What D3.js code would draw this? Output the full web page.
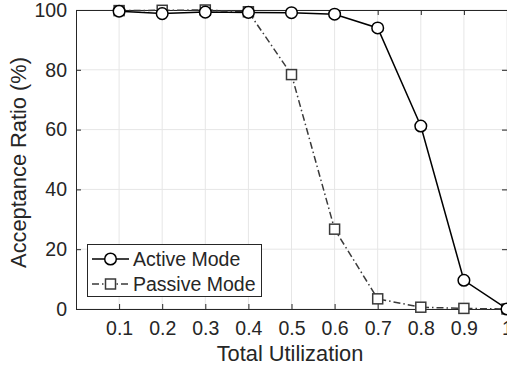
<!DOCTYPE html>
<html>
<head>
<meta charset="utf-8">
<script src="https://cdn.jsdelivr.net/npm/d3@7"></script>
<style>
  html, body { margin: 0; padding: 0; background: #fff; }
  svg { display: block; }
  text { font-family: "Liberation Sans", Arial, Helvetica, sans-serif; fill: #262626; }
</style>
</head>
<body>
<svg id="chart" width="507" height="373"></svg>
<script>
// Total utilization levels and acceptance ratios (%) for each mode
const utilization = [0.1, 0.2, 0.3, 0.4, 0.5, 0.6, 0.7, 0.8, 0.9, 1.0];
const activeMode  = [99.6, 98.8, 99.3, 99.2, 99.1, 98.6, 94.0, 61.2, 9.6, 0.0];
const passiveMode = [99.8, 99.9, 100.0, 99.4, 78.4, 26.7, 3.4, 0.6, 0.2, 0.0];
const xTicks = [0.1, 0.2, 0.3, 0.4, 0.5, 0.6, 0.7, 0.8, 0.9, 1];
const yTicks = [0, 20, 40, 60, 80, 100];
const seriesNames = ["Active Mode", "Passive Mode"];

const svg = d3.select("#chart");
const plotL = 76, plotR = 507, plotT = 10, plotB = 309;

const x = d3.scaleLinear().domain([0, 1]).range([plotL, plotR]);
const y = d3.scaleLinear().domain([0, 100]).range([plotB, plotT]);

const axisColor = "#262626";
const fontSize = 19.5;
const labelSize = 21.8;

// grid
const grid = svg.append("g");
grid.selectAll("line.vx").data(xTicks).join("line")
  .attr("x1", d => x(d)).attr("x2", d => x(d))
  .attr("y1", plotT).attr("y2", plotB)
  .attr("stroke", "#e6e6e6").attr("stroke-width", 1);
grid.selectAll("line.hy").data(yTicks).join("line")
  .attr("x1", plotL).attr("x2", plotR)
  .attr("y1", d => y(d)).attr("y2", d => y(d))
  .attr("stroke", "#e6e6e6").attr("stroke-width", 1);

// axes with inward ticks
function styleAxis(g) {
  g.select(".domain").remove();
  g.selectAll(".tick line").attr("stroke", axisColor).attr("stroke-width", 1);
  g.selectAll(".tick text").attr("font-size", fontSize)
    .attr("font-family", "Liberation Sans, Arial, sans-serif").attr("fill", axisColor);
}
const xAxis = svg.append("g").attr("transform", `translate(0,${plotB})`)
  .call(d3.axisBottom(x).tickValues(xTicks).tickSize(-5).tickPadding(12)
    .tickFormat(d => d === 1 ? "1" : d3.format(".1f")(d)));
styleAxis(xAxis);
const xAxisTop = svg.append("g").attr("transform", `translate(0,${plotT})`)
  .call(d3.axisTop(x).tickValues(xTicks).tickSize(-5).tickFormat(""));
styleAxis(xAxisTop);
const yAxis = svg.append("g").attr("transform", `translate(${plotL},0)`)
  .call(d3.axisLeft(y).tickValues(yTicks).tickSize(-5).tickPadding(9));
styleAxis(yAxis);
const yAxisRight = svg.append("g").attr("transform", `translate(${plotR},0)`)
  .call(d3.axisRight(y).tickValues(yTicks).tickSize(-5).tickFormat(""));
styleAxis(yAxisRight);

// box
svg.append("rect").attr("x", plotL + 0.5).attr("y", plotT + 0.5)
  .attr("width", plotR - plotL).attr("height", plotB - plotT)
  .attr("fill", "none").attr("stroke", axisColor).attr("stroke-width", 1);

// axis labels
svg.append("text").attr("x", 290).attr("y", 361)
  .attr("text-anchor", "middle").attr("font-size", labelSize).text("Total Utilization");
svg.append("text")
  .attr("transform", `translate(26,162.5) rotate(-90)`)
  .attr("text-anchor", "middle").attr("font-size", labelSize).text("Acceptance Ratio (%)");

// series
const line = d3.line().x(d => x(d[0])).y(d => y(d[1]));
const activePts = utilization.map((u, i) => [u, activeMode[i]]);
const passivePts = utilization.map((u, i) => [u, passiveMode[i]]);

svg.append("path").datum(passivePts).attr("d", line)
  .attr("fill", "none").attr("stroke", "#3a3a3a").attr("stroke-width", 1.5)
  .attr("stroke-dasharray", "7,3,1.5,3");
svg.selectAll("rect.pm").data(passivePts).join("rect")
  .attr("x", d => x(d[0]) - 5).attr("y", d => y(d[1]) - 5)
  .attr("width", 10).attr("height", 10)
  .attr("fill", "#fff").attr("stroke", "#3a3a3a").attr("stroke-width", 1.5);

svg.append("path").datum(activePts).attr("d", line)
  .attr("fill", "none").attr("stroke", "#000").attr("stroke-width", 1.5);
svg.selectAll("circle.am").data(activePts).join("circle")
  .attr("cx", d => x(d[0])).attr("cy", d => y(d[1])).attr("r", 5.8)
  .attr("fill", "#fff").attr("stroke", "#000").attr("stroke-width", 1.5);

// legend
const lg = svg.append("g");
lg.append("rect").attr("x", 87.5).attr("y", 244.5).attr("width", 174).attr("height", 52)
  .attr("fill", "#fff").attr("stroke", axisColor).attr("stroke-width", 1);
const rows = [259, 284];
// active entry
lg.append("line").attr("x1", 92).attr("x2", 129).attr("y1", rows[0]).attr("y2", rows[0])
  .attr("stroke", "#000").attr("stroke-width", 1.5);
lg.append("circle").attr("cx", 110.5).attr("cy", rows[0]).attr("r", 5.8)
  .attr("fill", "#fff").attr("stroke", "#000").attr("stroke-width", 1.5);
// passive entry
lg.append("line").attr("x1", 92).attr("x2", 129).attr("y1", rows[1]).attr("y2", rows[1])
  .attr("stroke", "#3a3a3a").attr("stroke-width", 1.5).attr("stroke-dasharray", "7,3,1.5,3");
lg.append("rect").attr("x", 105.5).attr("y", rows[1] - 5).attr("width", 10).attr("height", 10)
  .attr("fill", "#fff").attr("stroke", "#3a3a3a").attr("stroke-width", 1.5);
lg.selectAll("text.lt").data(seriesNames).join("text")
  .attr("x", 133).attr("y", (d, i) => rows[i]).attr("dy", "0.35em")
  .attr("font-size", fontSize).text(d => d);
</script>
</body>
</html>
